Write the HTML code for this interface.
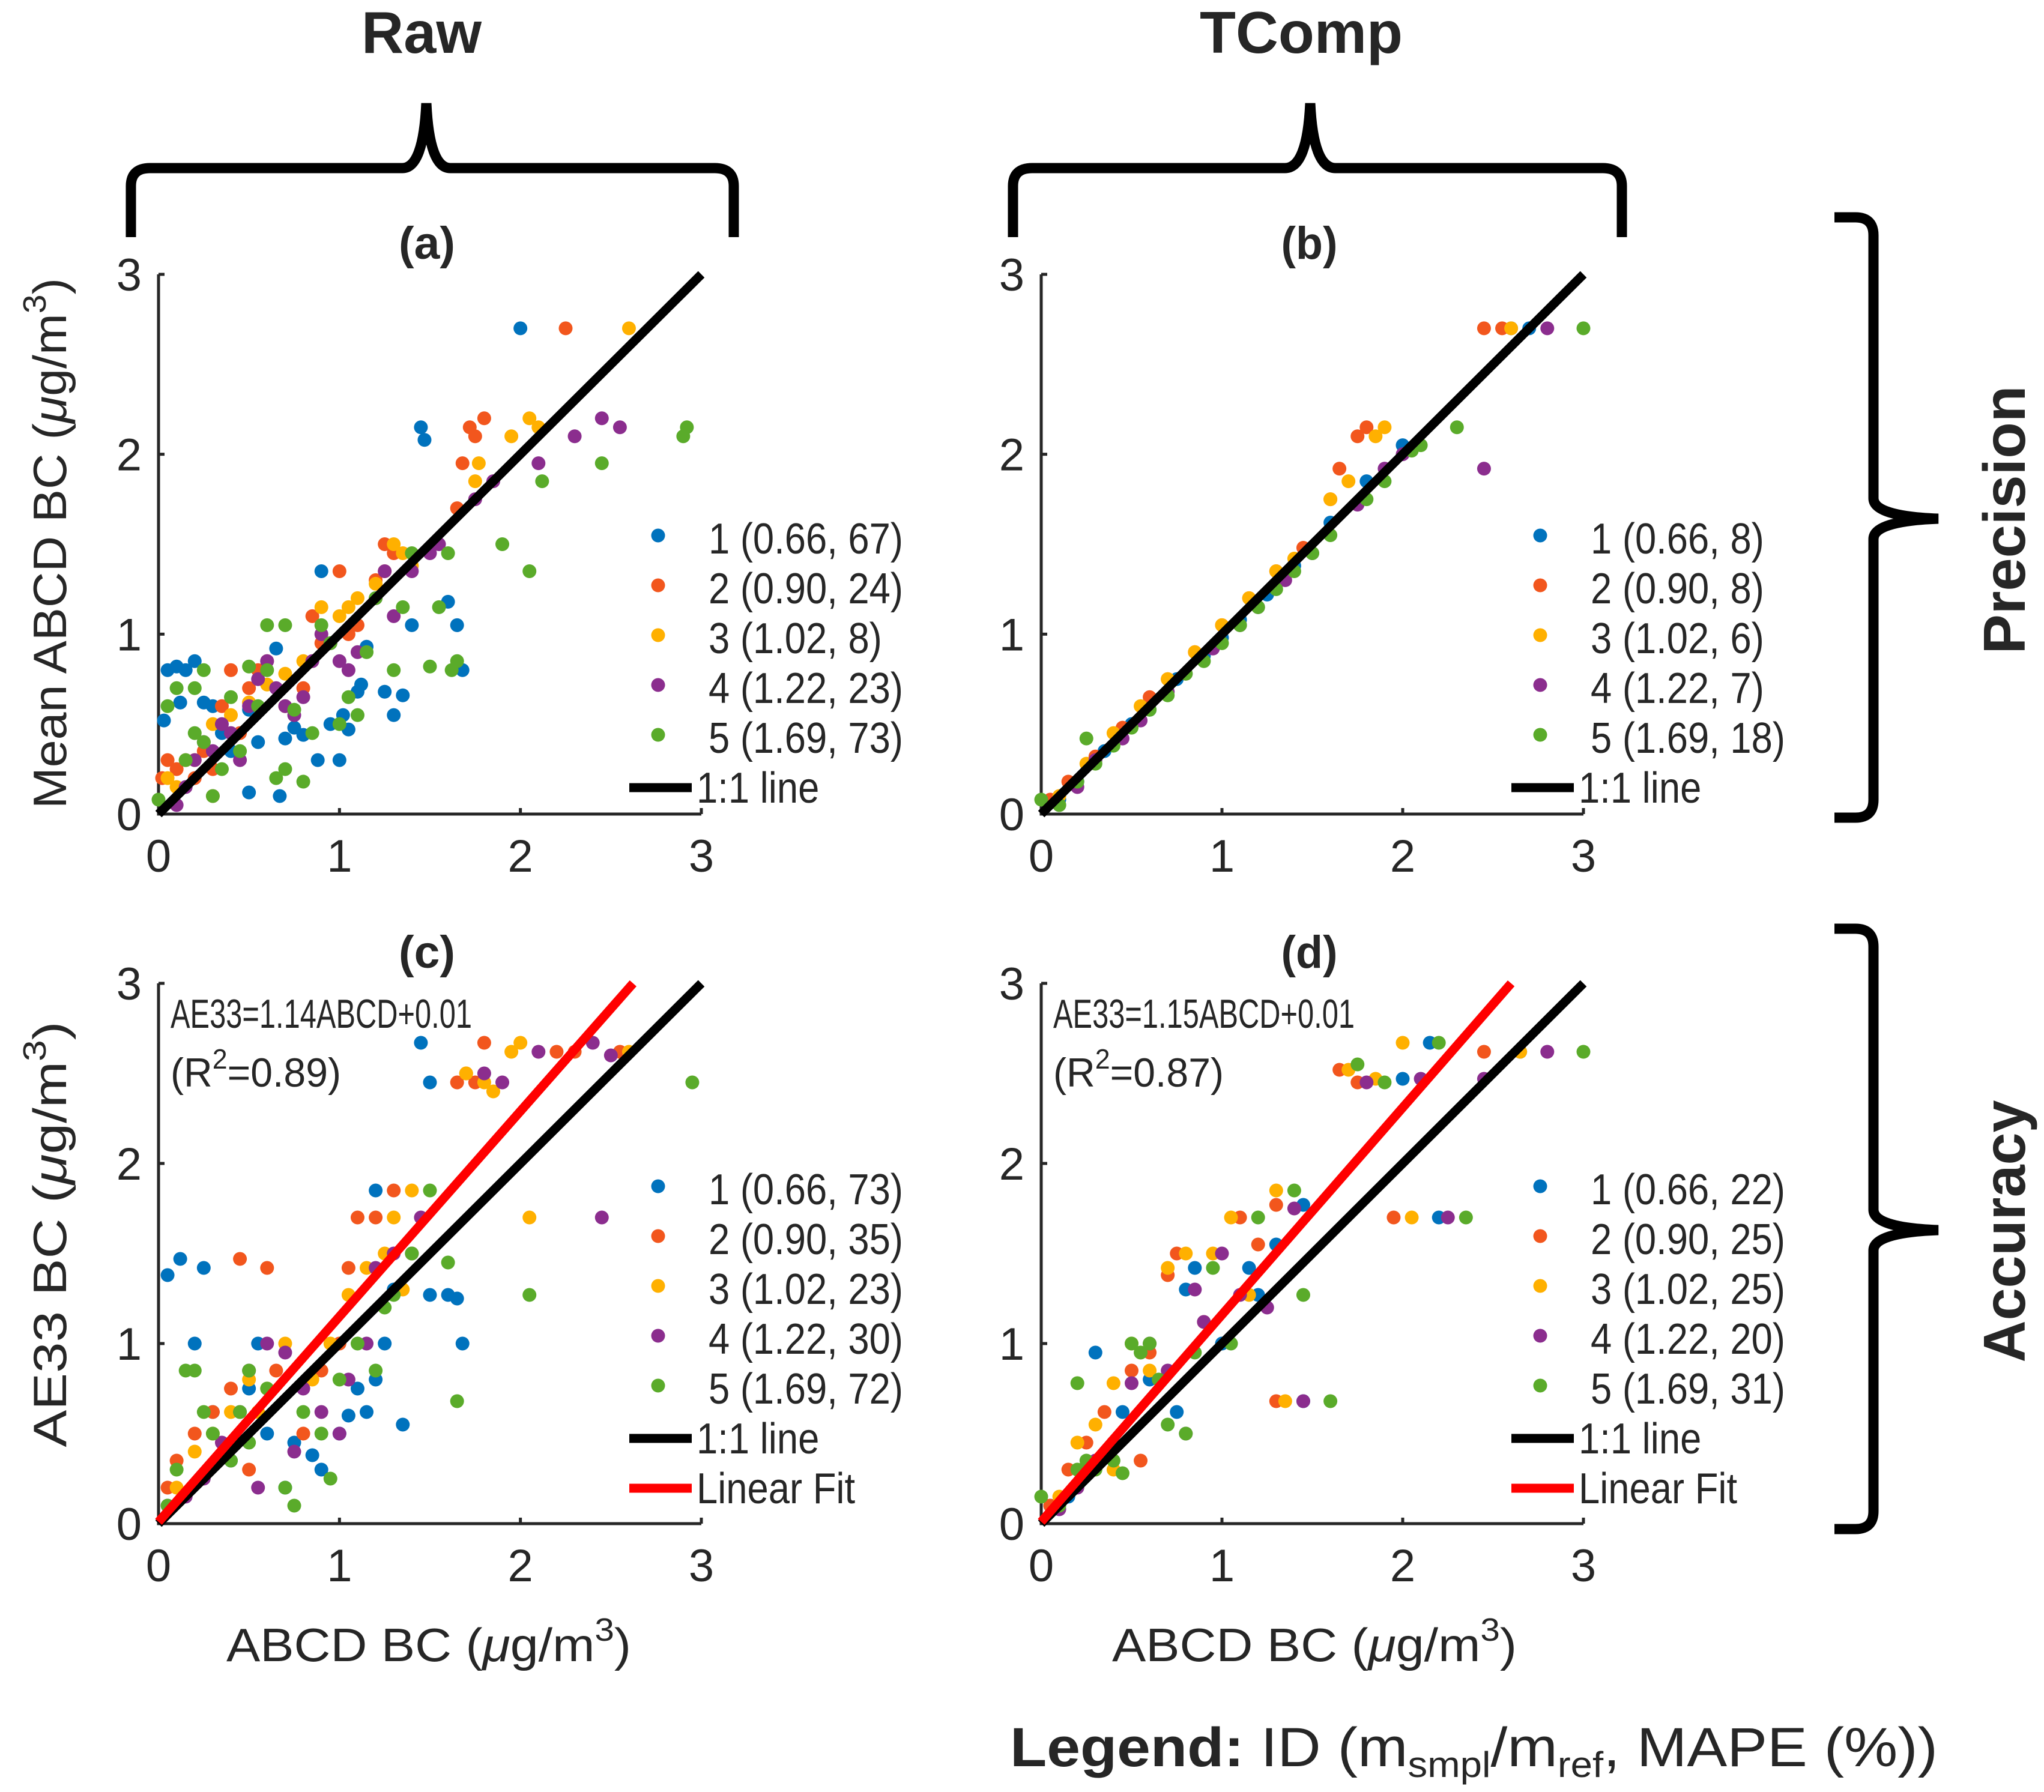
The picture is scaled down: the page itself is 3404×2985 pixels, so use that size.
<!DOCTYPE html>
<html><head><meta charset="utf-8"><style>
html,body{margin:0;padding:0;background:#fff}
svg{display:block}
text{font-family:"Liberation Sans",sans-serif;fill:#262626}
</style></head><body>
<svg id="fig" xmlns="http://www.w3.org/2000/svg" width="3404" height="2985" viewBox="0 0 3404 2985">
<g id="static">
<text x="702" y="88" font-size="98" font-weight="bold" text-anchor="middle" fill="#000" textLength="200" lengthAdjust="spacingAndGlyphs">Raw</text>
<text x="2167" y="88" font-size="98" font-weight="bold" text-anchor="middle" fill="#000" textLength="338" lengthAdjust="spacingAndGlyphs">TComp</text>
<path d="M218,395 L218,310 Q218,280 250,280 L670,280 Q705,280 710,172 Q715,280 750,280 L1190,280 Q1222,280 1222,310 L1222,395" fill="none" stroke="#000" stroke-width="17"/>
<path d="M1687,395 L1687,310 Q1687,280 1719,280 L2140,280 Q2177,280 2182,172 Q2187,280 2224,280 L2669,280 Q2701,280 2701,310 L2701,395" fill="none" stroke="#000" stroke-width="17"/>
<path d="M3055,362 L3090,362 Q3120,362 3120,392 L3120,830 Q3120,860 3228,864 Q3120,868 3120,898 L3120,1332 Q3120,1362 3090,1362 L3055,1362" fill="none" stroke="#000" stroke-width="17"/>
<path d="M3055,1547 L3090,1547 Q3120,1547 3120,1577 L3120,2015 Q3120,2045 3228,2049 Q3120,2053 3120,2083 L3120,2517 Q3120,2547 3090,2547 L3055,2547" fill="none" stroke="#000" stroke-width="17"/>
<text transform="translate(3372,866) rotate(-90)" font-size="98" font-weight="bold" text-anchor="middle" fill="#000" textLength="447" lengthAdjust="spacingAndGlyphs">Precision</text>
<text transform="translate(3372,2051) rotate(-90)" font-size="98" font-weight="bold" text-anchor="middle" fill="#000" textLength="437" lengthAdjust="spacingAndGlyphs">Accuracy</text>
<text transform="translate(110,905) rotate(-90)" font-size="78" text-anchor="middle" textLength="884" lengthAdjust="spacingAndGlyphs">Mean ABCD BC (<tspan font-style="italic">μ</tspan>g/m<tspan dy="-34" font-size="54">3</tspan><tspan dy="34">)</tspan></text>
<text transform="translate(110,2056) rotate(-90)" font-size="78" text-anchor="middle" textLength="709" lengthAdjust="spacingAndGlyphs">AE33 BC (<tspan font-style="italic">μ</tspan>g/m<tspan dy="-34" font-size="54">3</tspan><tspan dy="34">)</tspan></text>
<text x="714" y="2767" font-size="78" text-anchor="middle" textLength="674" lengthAdjust="spacingAndGlyphs">ABCD BC (<tspan font-style="italic">μ</tspan>g/m<tspan dy="-34" font-size="54">3</tspan><tspan dy="34">)</tspan></text>
<text x="2189" y="2767" font-size="78" text-anchor="middle" textLength="674" lengthAdjust="spacingAndGlyphs">ABCD BC (<tspan font-style="italic">μ</tspan>g/m<tspan dy="-34" font-size="54">3</tspan><tspan dy="34">)</tspan></text>
<text x="1682" y="2942" font-size="92" fill="#000" textLength="1545" lengthAdjust="spacingAndGlyphs"><tspan font-weight="bold">Legend:</tspan> ID (m<tspan dy="18" font-size="60">smpl</tspan><tspan dy="-18">/m</tspan><tspan dy="18" font-size="60">ref</tspan><tspan dy="-18">, MAPE (%))</tspan></text>
</g>
<g id="plots"></g>
</svg>
<script>
const tickValues=[0,1,2,3];
const tickLabels=["0","1","2","3"];
const seriesIds=["1","2","3","4","5"];
const ratios=["0.66","0.90","1.02","1.22","1.69"];
const mapeA=["67","24","8","23","73"];
const mapeB=["8","8","6","7","18"];
const mapeC=["73","35","23","30","72"];
const mapeD=["22","25","25","20","31"];
const fitSlopes=[1.14,1.15];
const fitIntercepts=[0.01,0.01];
const fitR2=["0.89","0.87"];

const a1x=[0.03,0.05,0.1,0.12,0.15,0.2,0.25,0.3,0.35,0.4,0.5,0.55,0.65,0.7,0.75,0.8,0.88,0.9,0.95,1.0,1.02,1.05,1.1,1.12,1.15,1.25,1.3,1.35,1.4,1.45,1.47,1.6,1.65,1.68,2.0,0.67,0.5];
const a1y=[0.52,0.8,0.82,0.62,0.8,0.85,0.62,0.6,0.45,0.35,0.12,0.4,0.92,0.42,0.48,0.44,0.3,1.35,0.5,0.3,0.55,0.47,0.68,0.72,0.93,0.68,0.55,0.66,1.05,2.15,2.08,1.18,1.05,0.8,2.7,0.1,0.58];
const a2x=[0.02,0.05,0.1,0.15,0.2,0.25,0.3,0.35,0.4,0.45,0.5,0.55,0.6,0.7,0.8,0.85,0.9,1.0,1.05,1.1,1.2,1.25,1.3,1.65,1.68,1.72,1.75,1.8,2.25,0.3,0.5];
const a2y=[0.2,0.3,0.25,0.3,0.2,0.35,0.1,0.6,0.8,0.45,0.7,0.8,0.85,0.6,0.7,1.1,0.95,1.35,1.0,1.05,1.3,1.5,1.45,1.7,1.95,2.15,2.1,2.2,2.7,0.25,0.62];
const a3x=[0.05,0.1,0.2,0.3,0.4,0.5,0.6,0.7,0.8,0.9,1.0,1.05,1.1,1.2,1.25,1.3,1.35,1.4,1.75,1.77,1.95,2.05,2.1,2.6];
const a3y=[0.2,0.15,0.3,0.5,0.55,0.62,0.72,0.78,0.85,1.15,1.1,1.15,1.2,1.28,1.35,1.5,1.45,1.38,1.85,1.95,2.1,2.2,2.15,2.7];
const a4x=[0.1,0.15,0.2,0.25,0.3,0.35,0.4,0.45,0.5,0.55,0.6,0.65,0.7,0.75,0.8,0.85,0.9,0.95,1.0,1.05,1.1,1.2,1.25,1.3,1.4,1.5,1.55,1.75,1.85,2.1,2.3,2.45,2.55];
const a4y=[0.05,0.15,0.3,0.4,0.35,0.5,0.45,0.3,0.6,0.75,0.85,0.7,0.6,0.55,0.65,0.85,1.0,0.95,0.85,0.8,0.9,1.2,1.35,1.1,1.35,1.45,1.5,1.75,1.85,1.95,2.1,2.2,2.15];
const a5x=[0.0,0.05,0.1,0.15,0.2,0.25,0.3,0.35,0.4,0.45,0.5,0.55,0.6,0.65,0.7,0.75,0.8,0.85,0.9,0.95,1.0,1.05,1.1,1.15,1.2,1.3,1.35,1.4,1.5,1.55,1.6,1.62,1.65,1.9,2.05,2.12,2.45,2.9,2.92,0.2,0.25,0.6,0.7];
const a5y=[0.08,0.6,0.7,0.3,0.7,0.8,0.1,0.25,0.65,0.35,0.82,0.6,0.8,0.2,0.25,0.58,0.18,0.45,1.05,0.95,0.5,0.65,0.55,0.9,1.2,0.8,1.15,1.45,0.82,1.15,1.45,0.8,0.85,1.5,1.35,1.85,1.95,2.1,2.15,0.45,0.4,1.05,1.05];

const b1x=[0.1,0.2,0.35,0.5,0.6,0.75,0.9,1.0,1.1,1.25,1.4,1.6,1.8,2.0,2.6,2.7];
const b1y=[0.08,0.18,0.35,0.5,0.58,0.75,0.88,0.98,1.08,1.22,1.38,1.62,1.85,2.05,2.7,2.7];
const b2x=[0.05,0.15,0.3,0.45,0.6,0.7,0.85,1.0,1.15,1.3,1.45,1.6,1.65,1.75,1.8,2.45,2.55];
const b2y=[0.08,0.18,0.32,0.48,0.65,0.75,0.9,1.05,1.2,1.35,1.48,1.75,1.92,2.1,2.15,2.7,2.7];
const b3x=[0.1,0.25,0.4,0.55,0.7,0.85,1.0,1.15,1.3,1.4,1.6,1.7,1.85,1.9,2.6];
const b3y=[0.1,0.28,0.45,0.6,0.75,0.9,1.05,1.2,1.35,1.42,1.75,1.85,2.1,2.15,2.7];
const b4x=[0.1,0.2,0.3,0.45,0.55,0.7,0.8,0.95,1.1,1.2,1.35,1.5,1.75,1.9,2.0,2.45,2.8];
const b4y=[0.05,0.15,0.3,0.42,0.52,0.68,0.78,0.92,1.05,1.15,1.3,1.45,1.72,1.92,2.0,1.92,2.7];
const b5x=[0.0,0.1,0.2,0.3,0.4,0.5,0.6,0.7,0.8,0.9,1.0,1.1,1.2,1.3,1.4,1.5,1.6,1.8,1.9,2.05,2.1,2.3,3.0,0.25];
const b5y=[0.08,0.05,0.18,0.28,0.38,0.48,0.58,0.66,0.78,0.85,0.95,1.05,1.15,1.25,1.35,1.45,1.55,1.75,1.85,2.02,2.05,2.15,2.7,0.42];

const c1x=[0.05,0.12,0.2,0.25,0.3,0.4,0.5,0.55,0.7,0.75,0.85,0.9,1.0,1.05,1.15,1.2,1.25,1.3,1.35,1.4,1.45,1.5,1.6,1.65,1.68,1.5,1.2,1.1,0.6];
const c1y=[1.38,1.47,1.0,1.42,0.62,0.35,0.75,1.0,0.2,0.45,0.38,0.3,0.5,0.6,0.62,0.8,1.0,1.3,0.55,1.5,2.67,2.45,1.27,1.25,1.0,1.27,1.85,0.75,0.5];
const c2x=[0.05,0.1,0.2,0.3,0.45,0.6,0.65,0.8,0.9,1.0,1.05,1.1,1.2,1.3,1.4,1.65,1.7,1.75,1.8,2.2,2.3,2.55,0.4,0.5];
const c2y=[0.2,0.35,0.5,0.62,1.47,1.42,0.85,0.5,0.85,1.0,1.42,1.7,1.7,1.85,1.5,2.45,2.5,2.45,2.67,2.62,2.62,2.62,0.75,0.3];
const c3x=[0.1,0.2,0.3,0.4,0.5,0.6,0.7,0.85,0.95,1.05,1.15,1.25,1.3,1.4,1.7,1.8,1.85,1.95,2.0,2.05,2.6,1.35,0.55];
const c3y=[0.2,0.4,0.5,0.62,0.8,0.75,1.0,0.8,1.0,1.27,1.42,1.5,1.7,1.85,2.5,2.45,2.4,2.62,2.67,1.7,2.62,1.3,0.62];
const c4x=[0.05,0.15,0.25,0.35,0.45,0.5,0.6,0.7,0.8,0.9,1.0,1.05,1.15,1.2,1.3,1.45,1.8,1.9,2.1,2.4,2.45,2.5,0.55,0.75];
const c4y=[0.1,0.15,0.25,0.45,0.62,0.85,1.0,0.95,0.75,0.62,0.5,0.8,1.0,1.42,1.5,1.7,2.5,2.45,2.62,2.67,1.7,2.6,0.2,0.4];
const c5x=[0.05,0.1,0.2,0.25,0.3,0.4,0.5,0.6,0.7,0.75,0.8,0.9,0.95,1.0,1.1,1.2,1.3,1.4,1.5,1.6,1.65,2.05,2.95,1.25,0.15,0.5,0.45];
const c5y=[0.1,0.3,0.85,0.62,0.5,0.35,0.85,0.75,0.2,0.1,0.62,0.5,0.25,0.8,1.0,0.85,1.27,1.5,1.85,1.45,0.68,1.27,2.45,1.2,0.85,0.45,0.62];

const d1x=[0.05,0.15,0.3,0.45,0.6,0.75,0.85,1.0,1.15,1.3,1.45,2.0,2.2,2.65,1.45,2.15,0.8,1.2];
const d1y=[0.1,0.15,0.95,0.62,0.8,0.62,1.42,1.0,1.42,1.55,1.77,2.47,1.7,2.62,0.68,2.67,1.3,1.27];
const d2x=[0.05,0.15,0.25,0.35,0.5,0.6,0.7,0.75,0.9,1.1,1.2,1.3,1.65,1.75,1.95,2.45,1.3,0.55];
const d2y=[0.1,0.3,0.45,0.62,0.85,0.95,1.38,1.5,1.12,1.7,1.55,1.77,2.52,2.45,1.7,2.62,0.68,0.35];
const d3x=[0.1,0.2,0.3,0.4,0.5,0.6,0.7,0.8,0.95,1.05,1.15,1.3,1.7,1.85,2.0,2.05,2.65,1.35,0.4];
const d3y=[0.15,0.45,0.55,0.78,1.0,0.85,1.42,1.5,1.5,1.7,1.27,1.85,2.52,2.47,2.67,1.7,2.62,0.68,0.3];
const d4x=[0.1,0.2,0.3,0.4,0.5,0.6,0.7,0.85,0.9,1.0,1.1,1.25,1.4,1.8,2.1,2.45,2.8,2.25,1.45,0.8];
const d4y=[0.08,0.2,0.35,0.45,0.78,1.0,0.85,1.3,1.12,1.5,1.27,1.2,1.75,2.45,2.47,2.47,2.62,1.7,0.68,0.5];
const d5x=[0.0,0.1,0.2,0.25,0.3,0.4,0.45,0.5,0.55,0.6,0.7,0.8,0.85,0.95,1.05,1.2,1.4,1.45,1.75,1.9,2.2,3.0,1.6,2.35,0.65,0.2];
const d5y=[0.15,0.1,0.3,0.35,0.3,0.35,0.28,1.0,0.95,1.0,0.55,0.5,0.95,1.42,1.0,1.7,1.85,1.27,2.55,2.45,2.67,2.62,0.68,1.7,0.8,0.78];

const colors=["#0072BD","#F2561D","#FFB000","#8B2D8E","#5AAB2A"];
const NS="http://www.w3.org/2000/svg";
const root=document.getElementById("plots");
function mk(tag,attrs,parent){const e=document.createElementNS(NS,tag);for(const k in attrs)e.setAttribute(k,attrs[k]);parent.appendChild(e);return e;}
function condense(el,f){const w=el.getComputedTextLength();el.setAttribute("textLength",(w*f).toFixed(1));el.setAttribute("lengthAdjust","spacingAndGlyphs");}

const panels=[
 {id:"a",x0:264,x1:1168,y0:1356,y1:457,xs:[a1x,a2x,a3x,a4x,a5x],ys:[a1y,a2y,a3y,a4y,a5y],mape:mapeA,fit:-1,legY:897},
 {id:"b",x0:1734,x1:2637,y0:1356,y1:457,xs:[b1x,b2x,b3x,b4x,b5x],ys:[b1y,b2y,b3y,b4y,b5y],mape:mapeB,fit:-1,legY:897},
 {id:"c",x0:264,x1:1168,y0:2538,y1:1638,xs:[c1x,c2x,c3x,c4x,c5x],ys:[c1y,c2y,c3y,c4y,c5y],mape:mapeC,fit:0,legY:1981},
 {id:"d",x0:1734,x1:2637,y0:2538,y1:1638,xs:[d1x,d2x,d3x,d4x,d5x],ys:[d1y,d2y,d3y,d4y,d5y],mape:mapeD,fit:1,legY:1981}
];

panels.forEach(p=>{
 const sx=v=>p.x0+(p.x1-p.x0)*v/3;
 const sy=v=>p.y0+(p.y1-p.y0)*v/3;
 const g=mk("g",{},root);
 
 
 const t=mk("text",{x:(p.x0+p.x1)/2-5,y:p.y1-26,"font-size":76,"font-weight":"bold","text-anchor":"middle",fill:"#000",textLength:94,lengthAdjust:"spacingAndGlyphs"},g);
 t.textContent="("+p.id+")";
 
 
 const ax=mk("path",{d:`M${p.x0},${p.y1} L${p.x0},${p.y0} L${p.x1},${p.y0}`,fill:"none",stroke:"#262626","stroke-width":5},g);
 
 
 tickValues.forEach((v,i)=>{
  mk("line",{x1:sx(v),y1:p.y0,x2:sx(v),y2:p.y0-10,stroke:"#262626","stroke-width":5},g);
  mk("line",{x1:p.x0,y1:sy(v),x2:p.x0+10,y2:sy(v),stroke:"#262626","stroke-width":5},g);
  const xl=mk("text",{x:sx(v),y:p.y0+96,"font-size":76,"text-anchor":"middle"},g);
  xl.textContent=tickLabels[i];
  
  
  const yl=mk("text",{x:p.x0-28,y:sy(v)+27,"font-size":76,"text-anchor":"end"},g);
  yl.textContent=tickLabels[i];
  
  
 });
 p.xs.forEach((xa,si)=>{
  const ya=p.ys[si];
  const sg=mk("g",{fill:colors[si]},g);
  
  
  for(let k=0;k<Math.min(xa.length,ya.length);k++){
   const c=mk("circle",{cx:sx(xa[k]),cy:sy(ya[k]),r:11.5},sg);
   
   
  }
 });
 const l=mk("line",{x1:sx(0),y1:sy(0),x2:sx(3),y2:sy(3),stroke:"#000","stroke-width":15},g);
 
 
 if(p.fit>=0){
  const m=fitSlopes[p.fit],b=fitIntercepts[p.fit];
  const xe=(3-b)/m;
  const f=mk("line",{x1:sx(0),y1:sy(b),x2:sx(xe),y2:sy(3),stroke:"#FF0000","stroke-width":15},g);
  
  
  const e1=mk("text",{x:p.x0+20,y:p.y1+74,"font-size":68,fill:"#000",textLength:502,lengthAdjust:"spacingAndGlyphs"},g);
  e1.textContent="AE33="+m.toFixed(2)+"ABCD+"+b.toFixed(2);
  
  
  const e2=mk("text",{x:p.x0+20,y:p.y1+172,"font-size":68,fill:"#000",textLength:284,lengthAdjust:"spacingAndGlyphs"},g);
  e2.innerHTML='(R<tspan dy="-30" font-size="46">2</tspan><tspan dy="30">='+fitR2[p.fit]+')</tspan>';
  
  
 }
 const mx=p.x1-72, tx=p.x1+12;
 seriesIds.forEach((id,si)=>{
  const yy=p.legY+83*si;
  const lg=mk("g",{},g);
  
  
  mk("circle",{cx:mx,cy:yy-5,r:11.5,fill:colors[si]},lg);
  const lt=mk("text",{x:tx,y:yy+25,"font-size":72,fill:"#000"},lg);
  lt.textContent=id+" ("+ratios[si]+", "+p.mape[si]+")";
  condense(lt,0.88);
 });
 const extra=[["1:1 line","#000"]];
 if(p.fit>=0) extra.push(["Linear Fit","#FF0000"]);
 extra.forEach((e,k)=>{
  const yy=p.legY+83*(5+k);
  const lg=mk("g",{},g);
  
  
  mk("line",{x1:p.x1-120,y1:yy,x2:p.x1-16,y2:yy,stroke:e[1],"stroke-width":15},lg);
  const lt=mk("text",{x:p.x1-8,y:yy+25,"font-size":72,fill:"#000"},lg);
  lt.textContent=e[0];
  condense(lt,0.88);
 });
});
</script>
</body></html>
